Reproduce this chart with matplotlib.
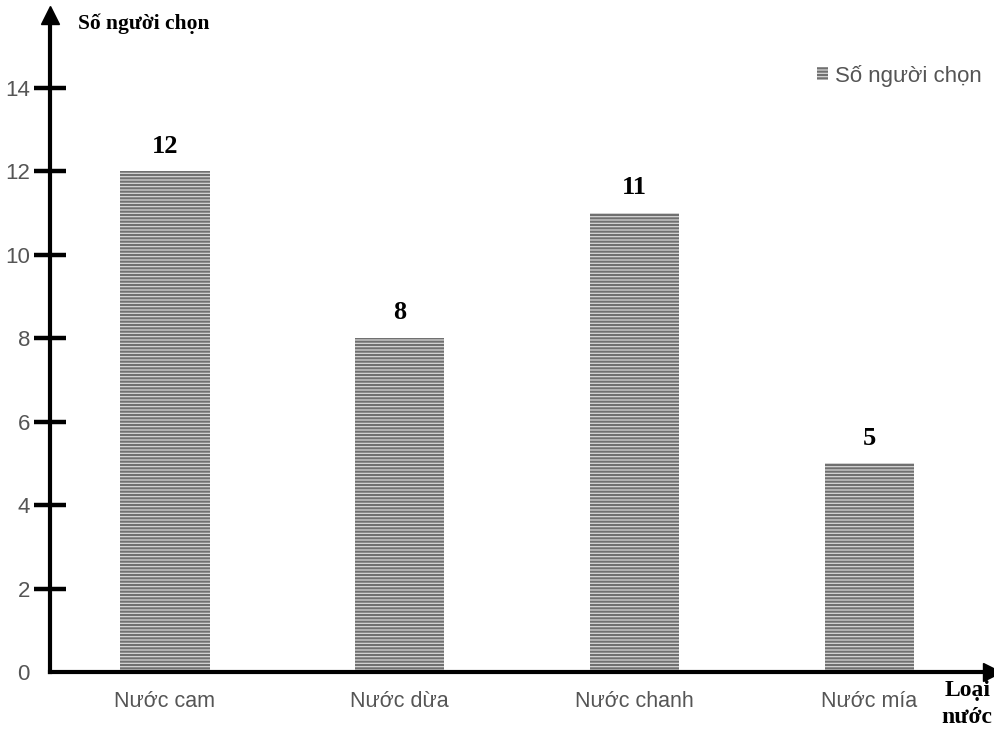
import matplotlib.pyplot as plt

loai_nuoc = ["Nước cam", "Nước dừa", "Nước chanh", "Nước mía"]
so_nguoi = [12, 8, 11, 5]
y_ticks = [0, 2, 4, 6, 8, 10, 12, 14]

plt.rcParams["font.family"] = "Liberation Sans"
plt.rcParams["hatch.linewidth"] = 1.5

fig = plt.figure(figsize=(9.95, 7.31), dpi=100)
ax = fig.add_axes([0.0503, 0.0807, 0.947, 0.8988])

x = range(len(loai_nuoc))
bars = ax.bar(x, so_nguoi, width=0.38, color="#d6d6d6", edgecolor="#707070",
              linewidth=0, hatch="-----", label="Số người chọn", zorder=2)

for xi, v in zip(x, so_nguoi):
    ax.annotate(str(v), (xi, v), xytext=(0, 10), textcoords="offset points",
                ha="center", va="bottom", fontsize=19, fontweight="bold",
                family="Liberation Serif")

ax.set_xlim(-0.489, 3.523)
ax.set_ylim(0, 15.75)
ax.set_xticks(list(x))
ax.set_xticklabels(loai_nuoc, fontsize=15.5, color="#555555")
ax.set_yticks(y_ticks)
ax.set_yticklabels([str(t) for t in y_ticks], fontsize=16, color="#555555")
ax.tick_params(axis="x", length=0, pad=14)
ax.tick_params(axis="y", direction="inout", length=23, width=3.2, pad=3)
ax.yaxis.get_major_ticks()[0].tick1line.set_visible(False)

for side in ["top", "right"]:
    ax.spines[side].set_visible(False)
for side in ["left", "bottom"]:
    ax.spines[side].set_linewidth(3)
    ax.spines[side].set_zorder(3)

# arrow heads at the ends of both axes
ax.plot(0, 1, marker="^", color="black", markersize=13, transform=ax.transAxes, clip_on=False)
ax.plot(1, 0, marker=">", color="black", markersize=13, transform=ax.transAxes, clip_on=False)

fig.text(0.078, 0.967, "Số người chọn", fontsize=15.5, fontweight="bold",
         family="Liberation Serif", va="center")
fig.text(0.972, 0.037, "Loại\nnước", fontsize=17, fontweight="bold",
         family="Liberation Serif", ha="center", va="center", linespacing=1.35)

leg = ax.legend(loc="upper right", bbox_to_anchor=(1.01, 0.955), frameon=False,
                handlelength=0.5, handleheight=0.5, handletextpad=0.3,
                prop={"size": 16})
for t in leg.get_texts():
    t.set_color("#555555")

fig.savefig("out.png", dpi=100)
